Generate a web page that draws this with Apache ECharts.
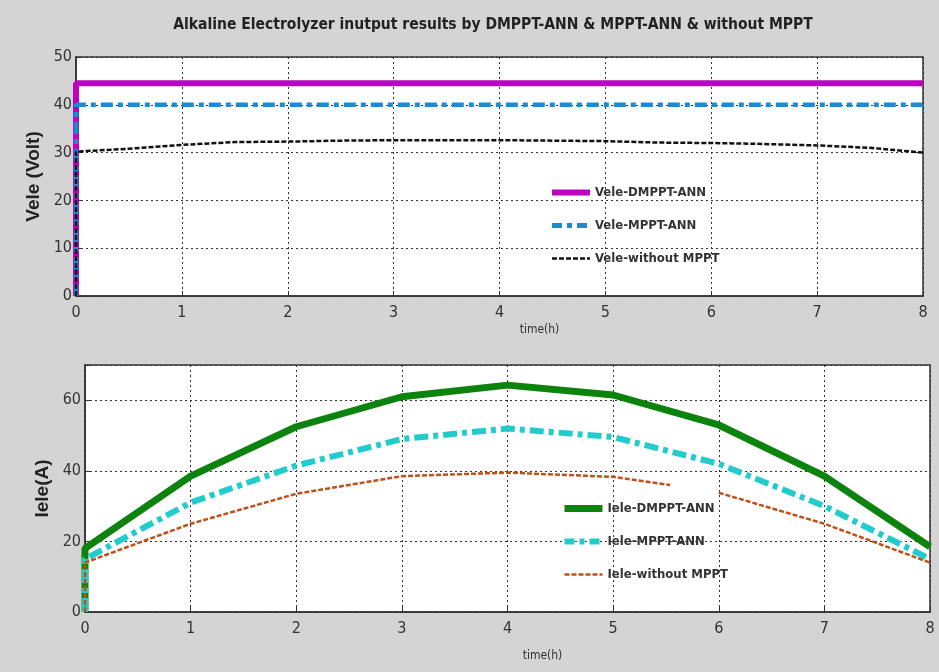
<!DOCTYPE html>
<html><head><meta charset="utf-8">
<script src="https://cdn.jsdelivr.net/npm/echarts@6/dist/echarts.min.js"></script>
<style>html,body{margin:0;padding:0;background:#d4d4d4}#c{width:939px;height:672px}</style>
</head><body><div id="c"></div>
<script>
// ---- data ----
const titleText = 'Alkaline Electrolyzer inutput results by DMPPT-ANN & MPPT-ANN & without MPPT';
const timeH = [0, 0, 0.5, 1, 1.5, 2, 2.5, 3, 3.5, 4, 4.5, 5, 5.5, 6, 6.5, 7, 7.5, 8];
const veleDMPPT   = [0, 44.5, 44.5, 44.5, 44.5, 44.5, 44.5, 44.5, 44.5, 44.5, 44.5, 44.5, 44.5, 44.5, 44.5, 44.5, 44.5, 44.5];
const veleMPPT    = [0, 40, 40, 40, 40, 40, 40, 40, 40, 40, 40, 40, 40, 40, 40, 40, 40, 40];
const veleWithout = [0, 30.2, 30.8, 31.6, 32.2, 32.3, 32.5, 32.6, 32.6, 32.6, 32.5, 32.4, 32.1, 32.0, 31.8, 31.5, 31.0, 30.0];

const timeI = [0, 0, 1, 2, 3, 4, 5, 5.54, 5.97, 6, 7, 8];
const ieleDMPPT   = [0, 18, 38.5, 52.5, 61, 64.3, 61.5, null, null, 53, 38.5, 18.5];
const ieleMPPT    = [0, 15, 31, 41.5, 49, 52, 49.6, null, null, 42, 30, 15];
const ieleWithout = [0, 14, 25, 33.5, 38.5, 39.5, 38.3, 36, null, 33.8, 25, 14];

const xTicks = [0, 8, 1];
const veleTicks = [0, 50, 10];
const ieleTicks = [0, 70, 20];

const pair = (xs, ys) => xs.map((x, i) => [x, ys[i]]);
const pairSkip = (xs, ys) => xs.map((x, i) => [x, ys[i]]).filter(p => p[1] !== null);

// ---- chart ----
const narrow = '"Liberation Sans Narrow", "DejaVu Sans Condensed", sans-serif';
const chart = echarts.init(document.getElementById('c'));
const splitStyle = {show: true, lineStyle: {color: '#333', type: [2, 3], width: 1}};
function xAx(gi, nameX) {
  return {
    type: 'value', gridIndex: gi, min: xTicks[0], max: xTicks[1], interval: xTicks[2],
    name: 'time(h)', nameLocation: 'middle', nameGap: gi === 0 ? 28 : 38,
    nameTextStyle: {fontFamily: narrow, fontSize: 12, color: '#333', padding: [0, 0, 0, nameX]},
    axisLine: {show: true, lineStyle: {color: '#333', width: 1.5}},
    axisTick: {show: true, inside: true, length: 5, lineStyle: {color: '#333'}},
    axisLabel: {fontFamily: narrow, fontSize: 16, color: '#333', margin: 9},
    splitLine: splitStyle
  };
}
function yAx(gi, t, name, gap) {
  return {
    type: 'value', gridIndex: gi, min: t[0], max: t[1], interval: t[2],
    name: name, nameLocation: 'middle', nameGap: gap,
    nameTextStyle: {fontFamily: '"Liberation Sans", Arial, sans-serif', fontWeight: 'bold', fontSize: 19, color: '#222'},
    axisLine: {show: true, lineStyle: {color: '#333', width: 1.5}},
    axisTick: {show: true, inside: true, length: 5, lineStyle: {color: '#333'}},
    axisLabel: {fontFamily: narrow, fontSize: 16, color: '#333', margin: 4,
      formatter: v => (v === 70 ? '' : String(v))},
    splitLine: splitStyle
  };
}
const legendText = {fontFamily: narrow, fontWeight: 'bold', fontSize: 13, color: '#333'};
const legItem = (name, w, type) => ({name: name, lineStyle: {width: w, type: type}});
chart.setOption({
  animation: false,
  backgroundColor: '#d4d4d4',
  title: {text: titleText, left: 488, textAlign: 'center', top: 12,
    textStyle: {fontFamily: narrow, fontWeight: 'bold', fontSize: 15.5, color: '#222'}},
  grid: [
    {left: 76, top: 57, right: 16, height: 239, show: true, backgroundColor: '#fff', borderColor: '#333', borderWidth: 1.5},
    {left: 85, top: 365, right: 9, bottom: 60, show: true, backgroundColor: '#fff', borderColor: '#333', borderWidth: 1.5}
  ],
  xAxis: [xAx(0, 80), xAx(1, 70)],
  yAxis: [yAx(0, veleTicks, 'Vele (Volt)', 27), yAx(1, ieleTicks, 'Iele(A)', 26)],
  legend: [
    {orient: 'vertical', left: 544, top: 181, itemWidth: 38, itemHeight: 14, itemGap: 20,
     itemStyle: {opacity: 0}, textStyle: legendText,
     data: [legItem('Vele-DMPPT-ANN', 6, 'solid'), legItem('Vele-MPPT-ANN', 5, [10, 5, 5, 5]), legItem('Vele-without MPPT', 2.5, [5, 2])]},
    {orient: 'vertical', left: 556, top: 497, itemWidth: 38, itemHeight: 14, itemGap: 20,
     itemStyle: {opacity: 0}, textStyle: legendText,
     data: [legItem('Iele-DMPPT-ANN', 7, 'solid'), legItem('Iele-MPPT-ANN', 6, [10, 5, 5, 5]), legItem('Iele-without MPPT', 2.5, [5, 2])]}
  ],
  series: [
    {name: 'Vele-DMPPT-ANN', type: 'line', xAxisIndex: 0, yAxisIndex: 0, symbol: 'none',
     data: pair(timeH, veleDMPPT), lineStyle: {color: '#c000c0', width: 6}, itemStyle: {color: '#c000c0'}},
    {name: 'Vele-MPPT-ANN', type: 'line', xAxisIndex: 0, yAxisIndex: 0, symbol: 'none',
     data: pair(timeH, veleMPPT), lineStyle: {color: '#1c8ad4', width: 4.5, type: [12, 5, 5, 5]}, itemStyle: {color: '#1c8ad4'}},
    {name: 'Vele-without MPPT', type: 'line', xAxisIndex: 0, yAxisIndex: 0, symbol: 'none',
     data: pair(timeH, veleWithout), lineStyle: {color: '#111', width: 2.5, type: [5, 2]}, itemStyle: {color: '#111'}},
    {name: 'Iele-DMPPT-ANN', type: 'line', xAxisIndex: 1, yAxisIndex: 1, symbol: 'none',
     data: pairSkip(timeI, ieleDMPPT), lineStyle: {color: '#0c830c', width: 7}, itemStyle: {color: '#0c830c'}},
    {name: 'Iele-MPPT-ANN', type: 'line', xAxisIndex: 1, yAxisIndex: 1, symbol: 'none',
     data: pairSkip(timeI, ieleMPPT), lineStyle: {color: '#22cccc', width: 6, type: [14, 5, 5, 5]}, itemStyle: {color: '#22cccc'}},
    {name: 'Iele-without MPPT', type: 'line', xAxisIndex: 1, yAxisIndex: 1, symbol: 'none', connectNulls: false,
     data: pair(timeI, ieleWithout),
     lineStyle: {color: '#c0501a', width: 2.5, type: [5, 2]}, itemStyle: {color: '#c0501a'}}
  ]
});
</script></body></html>
